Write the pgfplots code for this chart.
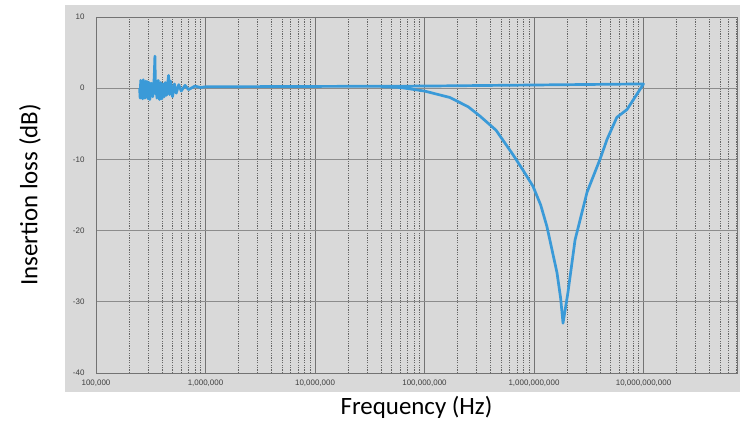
\documentclass[border=0pt]{standalone}
\usepackage{fontspec}
\setmainfont{Carlito}
\newfontfamily\tickfont{Liberation Sans}
\usepackage{pgfplots}
\pgfplotsset{compat=1.18}
\definecolor{bg}{HTML}{D9D9D9}
\definecolor{curve}{HTML}{3A9AD8}
\pgfplotstableread{
f db
2.5e5 0.0
2.53e5 -1.4
2.56e5 1.1
2.6e5 -1.2
2.63e5 1.0
2.66e5 -1.5
2.7e5 1.2
2.73e5 -1.1
2.77e5 0.9
2.8e5 -1.4
2.85e5 1.0
2.9e5 -1.2
2.95e5 0.9
3.0e5 -1.5
3.05e5 0.8
3.1e5 -1.6
3.2e5 0.7
3.3e5 -1.2
3.4e5 1.5
3.45e5 4.5
3.5e5 -0.8
3.55e5 1.0
3.6e5 -1.4
3.7e5 1.1
3.8e5 -1.6
3.9e5 0.8
4.0e5 -1.5
4.1e5 0.6
4.2e5 -1.2
4.3e5 0.8
4.4e5 -1.0
4.6e5 1.8
4.7e5 -0.9
4.8e5 1.0
5.0e5 -1.2
5.2e5 0.6
5.4e5 -0.7
5.7e5 0.5
6.0e5 -0.4
6.5e5 0.4
7.0e5 -0.2
8.0e5 0.3
9.0e5 0.1
1.0e6 0.2
1.0e8 0.3
1.0e10 0.6
7.06e9 -3.0
5.7e9 -4.1
4.64e9 -7.2
4.0e9 -10.0
3.05e9 -14.6
2.37e9 -21.3
2.04e9 -28.7
1.84e9 -33.0
1.75e9 -29.5
1.62e9 -25.9
1.45e9 -22.5
1.31e9 -19.4
1.15e9 -16.4
9.8e8 -13.8
8.0e8 -11.6
6.4e8 -9.3
4.5e8 -5.9
3.2e8 -3.9
2.5e8 -2.6
1.7e8 -1.3
1.0e8 -0.4
6.0e7 0.1
4.0e7 0.2
}\curvedata
\begin{document}
\begin{tikzpicture}[x=1bp,y=1bp]
\useasboundingbox (0,0) rectangle (749,428);
\fill[bg] (65,36) rectangle (740,423);
\begin{axis}[
  at={(96bp,55bp)}, anchor=south west,
  scale only axis, width=641bp, height=356bp,
  xmode=log, log basis x=10,
  xmin=1e5, xmax=7.14e10, ymin=-40, ymax=10,
  xtick={1e5,1e6,1e7,1e8,1e9,1e10},
  xticklabels={{100,000},{1,000,000},{10,000,000},{100,000,000},{1,000,000,000},{10,000,000,000}},
  minor xtick={2e5,3e5,4e5,5e5,6e5,7e5,8e5,9e5,
               2e6,3e6,4e6,5e6,6e6,7e6,8e6,9e6,
               2e7,3e7,4e7,5e7,6e7,7e7,8e7,9e7,
               2e8,3e8,4e8,5e8,6e8,7e8,8e8,9e8,
               2e9,3e9,4e9,5e9,6e9,7e9,8e9,9e9,
               2e10,3e10,4e10,5e10,6e10,7e10},
  ytick={-40,-30,-20,-10,0,10},
  yticklabels={-40,-30,-20,-10,0,10},
  xmajorgrids, xminorgrids, ymajorgrids,
  major x grid style={draw=black!55, line width=0.8bp},
  minor x grid style={draw=black!60, dash pattern=on 1.2bp off 1.2bp, line width=0.6bp},
  major y grid style={draw=black!45, line width=0.8bp},
  major tick length=0pt, minor tick length=0pt,
  axis line style={draw=black!55, line width=0.8bp},
  ticklabel style={font=\tickfont\fontsize{8}{9}\selectfont, text=black!75},
  xticklabel style={yshift=-3bp},
  yticklabel style={xshift=-8bp},
  xlabel={Frequency (Hz)}, ylabel={Insertion loss (dB)},
  label style={font=\fontsize{25}{30}\selectfont},
  xlabel style={at={(axis description cs:0.5,-0.098)}, anchor=center},
  ylabel style={at={(axis description cs:-0.103,0.5)}, anchor=center},
  axis background/.style={fill=bg},
]
\addplot[curve, line width=2.7bp, line join=round] table[x=f, y=db] {\curvedata};
\node[font=\tickfont\fontsize{8}{9}\selectfont, text=black!75, anchor=north west]
  at ([xshift=-15bp,yshift=-4bp]axis description cs:1,0) {100,000,000,000};
\end{axis}
\end{tikzpicture}
\end{document}
